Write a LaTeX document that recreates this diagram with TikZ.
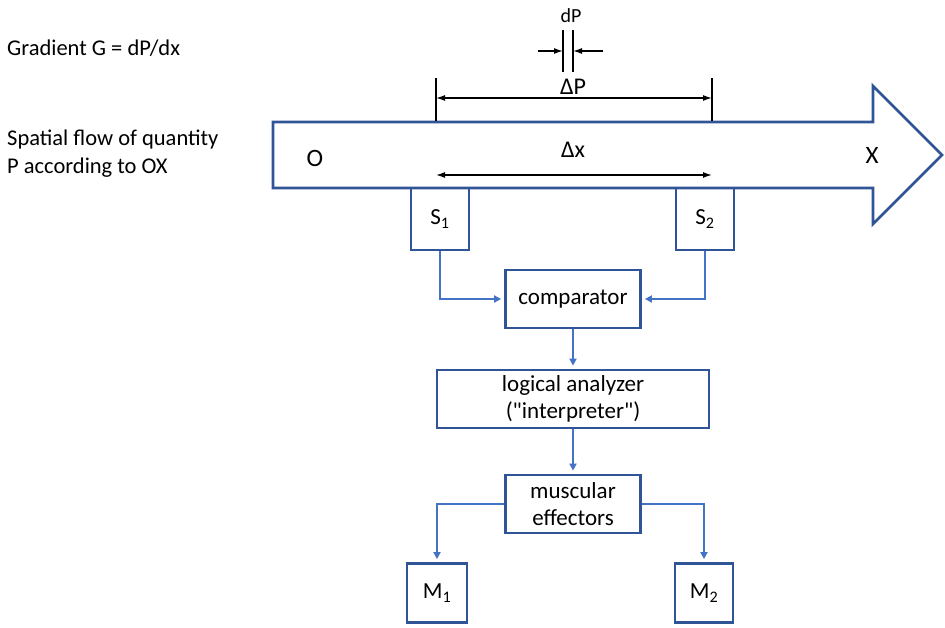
\documentclass[tikz,border=0pt]{standalone}
\usepackage{fontspec}
\setmainfont{Carlito}
\newfontfamily\plainquote{Carlito}
\usetikzlibrary{arrows.meta}
\definecolor{boxblue}{RGB}{47,85,151}
\definecolor{linkblue}{RGB}{68,114,196}
\begin{document}
\begin{tikzpicture}[x=1pt,y=-1pt,
    box/.style={draw=boxblue, line width=2.8pt, inner sep=0pt, align=center, font=\fontsize{23}{27}\selectfont},
    link/.style={draw=linkblue, line width=2.2pt, shorten >=3pt, -{Triangle[length=7pt,width=7pt]}},
    dim/.style={line width=1.4pt, {Latex[length=9pt,width=6pt]}-{Latex[length=9pt,width=6pt]}},
    tick/.style={line width=1.4pt},
    lbl/.style={font=\fontsize{22.5}{28}\selectfont, inner sep=0pt}]
  \useasboundingbox (0,0) rectangle (945,627);
  \node[lbl, anchor=west] (grad) at (7,48) {Gradient G = dP/dx};
  \node[lbl, anchor=west, align=left] (flow) at (7,154) {Spatial flow of quantity\\P according to OX};
  \draw[boxblue, line width=2.8pt, line join=miter] (273,122) -- (873,122) -- (873,86) -- (942,155) -- (873,224) -- (873,188) -- (273,188) -- cycle;
  \node[lbl, font=\fontsize{25}{29}\selectfont] (o) at (315,158) {O};
  \node[lbl, font=\fontsize{25}{29}\selectfont] (x) at (872,155) {X};
  \coordinate (p1) at (436,98);
  \coordinate (p2) at (712,98);
  \draw[tick] (436,78) -- (436,121);
  \draw[tick] (712,78) -- (712,121);
  \draw[dim] (p1) -- (p2);
  \node[lbl, font=\fontsize{24}{28}\selectfont] (dp) at (573,87) {ΔP};
  \draw[tick] (563,30) -- (563,72);
  \draw[tick] (573,30) -- (573,72);
  \coordinate (d1) at (538,51);
  \coordinate (d2) at (563,51);
  \coordinate (d3) at (603,51);
  \coordinate (d4) at (573,51);
  \draw[tick, -{Latex[length=9pt,width=6pt]}] (d1) -- (d2);
  \draw[tick, -{Latex[length=9pt,width=6pt]}] (d3) -- (d4);
  \node[lbl, font=\fontsize{20}{24}\selectfont] (sdp) at (571,16) {dP};
  \coordinate (x1) at (436,175);
  \coordinate (x2) at (712,175);
  \draw[dim] (x1) -- (x2);
  \node[lbl, font=\fontsize{24}{28}\selectfont] (dx) at (573,150) {Δx};
  \node[box, minimum width=58pt, minimum height=62pt] (s1) at (440,219) {S\textsubscript{1}};
  \node[box, minimum width=58pt, minimum height=62pt] (s2) at (705,219) {S\textsubscript{2}};
  \node[box, minimum width=135pt, minimum height=58pt] (comp) at (573,299) {comparator};
  \node[box, minimum width=272pt, minimum height=58pt] (logic) at (573,399) {logical analyzer\\({\plainquote"}interpreter{\plainquote"})};
  \node[box, minimum width=135pt, minimum height=58pt] (musc) at (573,504) {muscular\\effectors};
  \node[box, minimum width=60pt, minimum height=59pt] (m1) at (437,593) {M\textsubscript{1}};
  \node[box, minimum width=58pt, minimum height=59pt] (m2) at (704,593) {M\textsubscript{2}};
  \draw[link] (s1.south) |- (comp.west);
  \draw[link] (s2.south) |- (comp.east);
  \draw[link] (comp) -- (logic);
  \draw[link] (logic) -- (musc);
  \draw[link] (musc.west) -| (m1.north);
  \draw[link] (musc.east) -| (m2.north);
\end{tikzpicture}
\end{document}
